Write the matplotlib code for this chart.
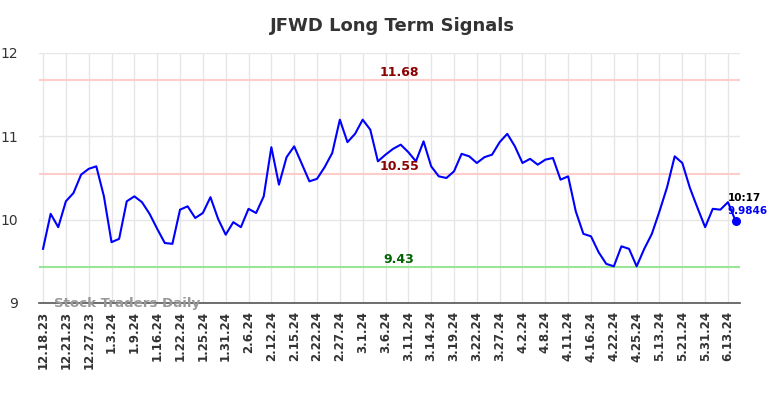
import matplotlib
matplotlib.use("Agg")
import matplotlib.pyplot as plt

values = [9.65, 10.07, 9.91, 10.22, 10.32, 10.54, 10.61, 10.64, 10.28, 9.73,
          9.77, 10.22, 10.28, 10.21, 10.07, 9.89, 9.72, 9.71, 10.12, 10.16,
          10.02, 10.08, 10.27, 10.01, 9.82, 9.97, 9.91, 10.13, 10.08, 10.28,
          10.87, 10.42, 10.75, 10.88, 10.67, 10.46, 10.49, 10.63, 10.80, 11.20,
          10.93, 11.03, 11.20, 11.08, 10.70, 10.78, 10.85, 10.90, 10.81, 10.70,
          10.94, 10.64, 10.52, 10.50, 10.58, 10.79, 10.76, 10.68, 10.75, 10.78,
          10.93, 11.03, 10.88, 10.68, 10.73, 10.66, 10.72, 10.74, 10.48, 10.52,
          10.10, 9.83, 9.80, 9.61, 9.47, 9.44, 9.68, 9.65, 9.44, 9.65,
          9.83, 10.10, 10.39, 10.76, 10.68, 10.38, 10.14, 9.91, 10.13, 10.12,
          10.21, 9.9846]
tick_labels = ["12.18.23", "12.21.23", "12.27.23", "1.3.24", "1.9.24", "1.16.24",
               "1.22.24", "1.25.24", "1.31.24", "2.6.24", "2.12.24", "2.15.24",
               "2.22.24", "2.27.24", "3.1.24", "3.6.24", "3.11.24", "3.14.24",
               "3.19.24", "3.22.24", "3.27.24", "4.2.24", "4.8.24", "4.11.24",
               "4.16.24", "4.22.24", "4.25.24", "5.13.24", "5.21.24", "5.31.24",
               "6.13.24"]
levels = [11.68, 10.55, 9.43]
level_line_colors = ["#ffcccc", "#ffcccc", "#99e699"]
level_text_colors = ["#8b0000", "#8b0000", "#006400"]
last_time = "10:17"
last_value_label = "9.9846"

fig = plt.figure(figsize=(7.84, 3.98), dpi=100)
ax = fig.add_axes([39/784, 1-303/398, (740-39)/784, (303-53)/398])

x = list(range(len(values)))
ax.plot(x, values, color="#0000ff", lw=1.5, zorder=3)
ax.scatter([x[-1]], [values[-1]], color="#0000ff", s=30, zorder=4)

for lv, lc, tc in zip(levels, level_line_colors, level_text_colors):
    ax.axhline(lv, color=lc, lw=1.5, zorder=2)
    ax.text(46.8, lv + 0.01, f"{lv:.2f}", color=tc, fontsize=9, fontweight="bold",
            ha="center", va="bottom", zorder=5)

ax.text(x[-1] - 1.0, values[-1] + 0.21, last_time, color="black", fontsize=7.5,
        fontweight="bold", ha="left", va="bottom")
ax.text(x[-1] - 1.0, values[-1] + 0.06, last_value_label, color="#0000ff", fontsize=7.5,
        fontweight="bold", ha="left", va="bottom")

ax.text(1.4, 9.0, "Stock Traders Daily", color="#999999", fontsize=9.6,
        fontweight="bold", ha="left", va="center", zorder=6)

ax.set_xlim(-0.53, 91.58)
ax.set_ylim(9, 12)
ax.set_yticks([9, 10, 11, 12])
ax.set_xticks(x[::3])
ax.set_xticklabels(tick_labels, rotation=90, fontsize=8.5, fontweight="bold", color="#333333")
ax.tick_params(axis="y", length=0, pad=15, labelsize=10, labelcolor="#333333")
ax.tick_params(axis="x", length=0, pad=6)
ax.grid(True, color="#e6e6e6", lw=1, zorder=0)
for s in ["left", "right", "top"]:
    ax.spines[s].set_visible(False)
ax.spines["bottom"].set_color("#555555")
ax.spines["bottom"].set_linewidth(1.2)

fig.text(0.5, 1-26/398, "JFWD Long Term Signals", ha="center", va="center",
         fontsize=13, fontweight="bold", color="#333333")

fig.savefig("out.png", dpi=100, facecolor="white")
